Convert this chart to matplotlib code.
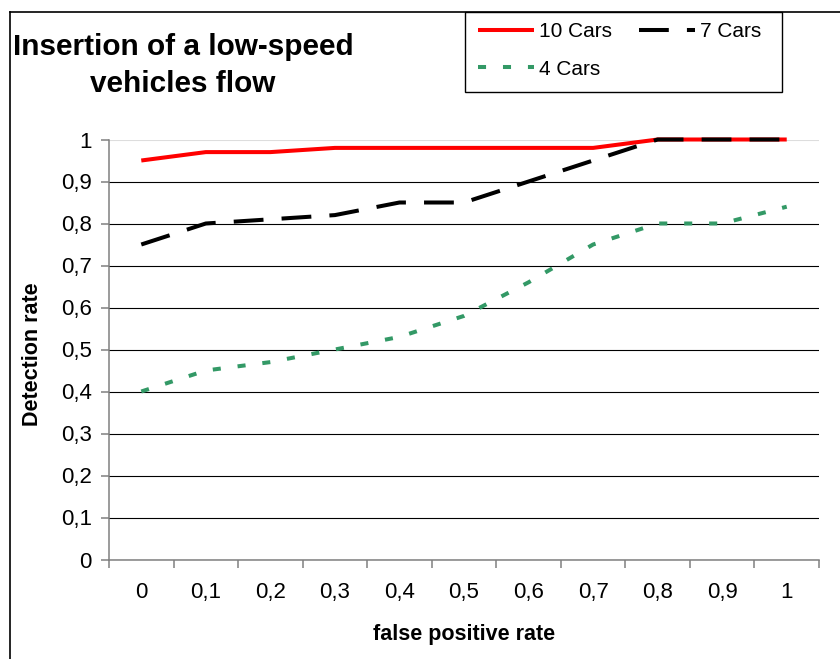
import numpy as np
import matplotlib
matplotlib.use("Agg")
import matplotlib.pyplot as plt
from matplotlib.lines import Line2D
from matplotlib.patches import Rectangle

plt.rcParams['font.family'] = ['Liberation Sans', 'DejaVu Sans']

# Data
fp_rates = ["0", "0,1", "0,2", "0,3", "0,4", "0,5", "0,6", "0,7", "0,8", "0,9", "1"]
cars_10 = [0.95, 0.97, 0.97, 0.98, 0.98, 0.98, 0.98, 0.98, 1.00, 1.00, 1.00]
cars_7 = [0.75, 0.80, 0.81, 0.82, 0.85, 0.85, 0.90, 0.95, 1.00, 1.00, 1.00]
cars_4 = [0.40, 0.45, 0.47, 0.50, 0.53, 0.58, 0.66, 0.75, 0.80, 0.80, 0.84]
y_ticks = [0, 0.1, 0.2, 0.3, 0.4, 0.5, 0.6, 0.7, 0.8, 0.9, 1.0]
y_labels = ["0", "0,1", "0,2", "0,3", "0,4", "0,5", "0,6", "0,7", "0,8", "0,9", "1"]

W, H = 840, 659
fig = plt.figure(figsize=(W / 100, H / 100), dpi=100)

def fx(px):
    return px / W

def fy(py):
    return 1 - py / H

# plot area
left, right, top, bottom = 109, 819, 139.5, 559.5
ax = fig.add_axes([fx(left), fy(bottom), fx(right) - fx(left), (bottom - top) / H])

x = np.arange(len(fp_rates))
lw = 2.9
ax.plot(x, cars_10, color="#FF0000", lw=lw, solid_capstyle="butt",
        label="10 Cars", zorder=4, clip_on=False)
ax.plot(x, cars_7, color="black", lw=lw, dashes=(7.4, 4.5),
        dash_capstyle="butt", label="7 Cars", zorder=5, clip_on=False)
ax.plot(x, cars_4, color="#339966", lw=lw, dashes=(2.0, 4.2),
        dash_capstyle="butt", label="4 Cars", zorder=3, clip_on=False)

ax.set_xlim(-0.5, len(fp_rates) - 0.5)
ax.set_ylim(0, 1)

# category axis: boundary ticks, centered labels
ax.set_xticks(np.arange(-0.5, len(fp_rates), 1.0))
ax.set_xticklabels([])
ax.set_xticks(x, minor=True)
ax.set_xticklabels(fp_rates, minor=True, fontsize=16)
ax.tick_params(axis="x", which="major", direction="out", length=5.6,
               width=1.1, color="#808080")
ax.tick_params(axis="x", which="minor", length=0, pad=16)

ax.set_yticks(y_ticks)
ax.set_yticklabels(y_labels, fontsize=16)
ax.tick_params(axis="y", direction="out", length=5.8, width=1.1,
               color="#808080", pad=6.5)

for side in ("top", "right"):
    ax.spines[side].set_visible(False)
for side in ("left", "bottom"):
    ax.spines[side].set_color("#808080")
    ax.spines[side].set_linewidth(1.1)

ax.yaxis.grid(True, color="black", lw=0.8)
ax.set_axisbelow(True)
ax.get_ygridlines()[-1].set_color("#dddddd")

# axis titles
fig.text(fx(464.5), fy(640), "false positive rate", ha="center",
         va="baseline", fontsize=15.5, fontweight="bold")
fig.text(fx(32), fy(354), "Detection rate", ha="center", va="center",
         rotation=90, fontsize=15.5, fontweight="bold")

# chart title
fig.text(fx(183), fy(55), "Insertion of a low-speed", ha="center",
         va="baseline", fontsize=21.4, fontweight="bold")
fig.text(fx(183), fy(92), "vehicles flow", ha="center",
         va="baseline", fontsize=21.4, fontweight="bold")

# outer chart border
fig.add_artist(Line2D([fx(10), fx(10)], [0, fy(12)], transform=fig.transFigure,
                      color="black", lw=1.2))
fig.add_artist(Line2D([fx(10), 1], [fy(12), fy(12)], transform=fig.transFigure,
                      color="black", lw=1.2))

# legend box
fig.add_artist(Rectangle((fx(465), fy(92)), fx(782) - fx(465), (92 - 12) / H,
                         transform=fig.transFigure, fill=False,
                         edgecolor="black", lw=1.0))
handles, labels = ax.get_legend_handles_labels()
order = [0, 2, 1]
fig.legend([handles[i] for i in order], [labels[i] for i in order],
           loc="upper left", bbox_to_anchor=(fx(478), fy(22)),
           bbox_transform=fig.transFigure, ncol=2, frameon=False,
           fontsize=15, handlelength=2.69, handletextpad=0.24,
           columnspacing=1.3, labelspacing=0.9, borderpad=0,
           borderaxespad=0)

fig.savefig("out.png", dpi=100)
